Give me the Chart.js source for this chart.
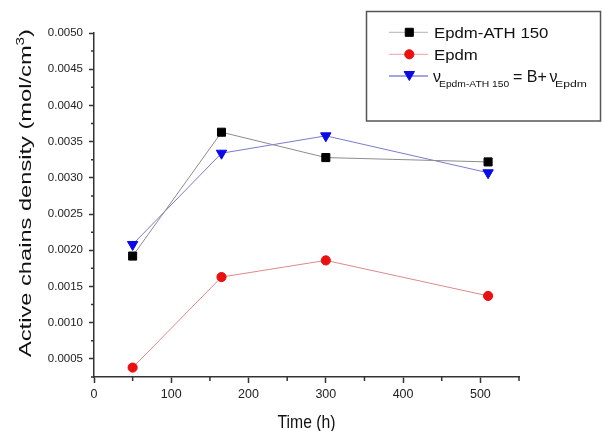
<!DOCTYPE html>
<html><head><meta charset="utf-8">
<script src="https://cdn.jsdelivr.net/npm/chart.js@4/dist/chart.umd.min.js"></script>
<style>html,body{margin:0;padding:0;background:#fff}#wrap{width:602px;height:431px;position:relative}</style>
</head><body><div id="wrap"><canvas id="c"></canvas></div>
<script>
// ---- data ----
const times = [50, 165, 300, 510];
const epdmATH150 = [0.00192, 0.00363, 0.00328, 0.00322];
const epdm = [0.00038, 0.00163, 0.00186, 0.00137];
const fitted = [0.00208, 0.00334, 0.00358, 0.00307];
const seriesNames = ['Epdm-ATH 150', 'Epdm', 'ν Epdm-ATH 150 = B+ ν Epdm'];
const xMajorTicks = [0, 100, 200, 300, 400, 500];
const xMinorTicks = [50, 150, 250, 350, 450, 550];
const yMajorTicks = [0.0005, 0.0010, 0.0015, 0.0020, 0.0025, 0.0030, 0.0035, 0.0040, 0.0045, 0.0050];
const yMinorTicks = [0.00025, 0.00075, 0.00125, 0.00175, 0.00225, 0.00275, 0.00325, 0.00375, 0.00425, 0.00475];
const xTitle = 'Time (h)';
const yTitleMain = 'Active chains density (mol/cm';
const yTitleSup = '3';
const yTitleEnd = ')';

const FAM = "'Liberation Sans', Arial, sans-serif";
const AXIS = '#333';
const styles = [
  {line: '#8c8c8c', legendLine: '#b4b4b4', fill: '#000000', shape: 'rect', r: 5.7},
  {line: '#dc8a8a', legendLine: '#f0a0a0', fill: '#e81010', shape: 'circle', r: 4.6},
  {line: '#7a7ad0', legendLine: '#4a4ac4', fill: '#0a0ae6', shape: 'triangle', r: 6.0}
];
const seriesValues = [epdmATH150, epdm, fitted];

function marker(ctx, shape, x, y, r, color) {
  ctx.save();
  ctx.fillStyle = color; ctx.strokeStyle = color; ctx.lineWidth = 1;
  ctx.beginPath();
  if (shape === 'rect') {
    const s = Math.SQRT1_2 * r;
    ctx.rect(x - s, y - s, 2 * s, 2 * s);
  } else if (shape === 'circle') {
    ctx.arc(x, y, r, 0, Math.PI * 2);
  } else {
    const w = r * Math.sin(Math.PI / 3);
    ctx.moveTo(x, y + r);
    ctx.lineTo(x - w, y - r / 2);
    ctx.lineTo(x + w, y - r / 2);
    ctx.closePath();
  }
  ctx.fill(); ctx.stroke();
  ctx.restore();
}

function txt(ctx, s, x, y, size, sx) {
  ctx.save();
  ctx.font = size + 'px ' + FAM;
  ctx.textAlign = 'left'; ctx.textBaseline = 'alphabetic';
  ctx.translate(x, y); ctx.scale(sx, 1);
  ctx.fillText(s, 0, 0);
  ctx.restore();
}

const overlay = {
  id: 'overlay',
  afterDraw(chart) {
    const ctx = chart.ctx;
    const xs = chart.scales.x, ys = chart.scales.y;
    ctx.save();
    // minor ticks
    ctx.strokeStyle = AXIS; ctx.lineWidth = 1.5;
    ctx.beginPath();
    xMinorTicks.forEach(v => { const p = xs.getPixelForValue(v); ctx.moveTo(p, xs.top); ctx.lineTo(p, xs.top + 4); });
    yMinorTicks.forEach(v => { const p = ys.getPixelForValue(v); ctx.moveTo(ys.right, p); ctx.lineTo(ys.right - 3, p); });
    ctx.stroke();

    ctx.fillStyle = '#111';
    // y title (rotated, stretched along its baseline)
    ctx.save();
    ctx.font = '17px ' + FAM;
    const w1 = ctx.measureText(yTitleMain).width;
    ctx.font = '11px ' + FAM;
    const w2 = ctx.measureText(yTitleSup).width;
    ctx.font = '17px ' + FAM;
    const w3 = ctx.measureText(yTitleEnd).width;
    const total = w1 + w2 + w3;
    const k = 328 / total;
    ctx.translate(30.5, 193);
    ctx.rotate(-Math.PI / 2);
    ctx.scale(k, 1);
    ctx.textBaseline = 'alphabetic'; ctx.textAlign = 'left';
    let px = -total / 2;
    ctx.font = '17px ' + FAM; ctx.fillText(yTitleMain, px, 0); px += w1;
    ctx.font = '11px ' + FAM; ctx.fillText(yTitleSup, px, -7); px += w2;
    ctx.font = '17px ' + FAM; ctx.fillText(yTitleEnd, px, 0);
    ctx.restore();

    // x title
    ctx.save();
    ctx.font = '18.5px ' + FAM;
    const wx = ctx.measureText(xTitle).width;
    const kx = 58 / wx;
    const cx = (xs.left + xs.right) / 2;
    txt(ctx, xTitle, cx - 29, 427.5, 18.5, kx);
    ctx.restore();

    // legend box
    ctx.strokeStyle = '#555'; ctx.lineWidth = 1.5;
    ctx.strokeRect(366.5, 11.5, 234, 109.5);
    const rowsY = [32.3, 54.3, 76];
    for (let i = 0; i < 3; i++) {
      ctx.strokeStyle = styles[i].legendLine; ctx.lineWidth = 1;
      ctx.beginPath(); ctx.moveTo(389, rowsY[i]); ctx.lineTo(428, rowsY[i]); ctx.stroke();
      marker(ctx, styles[i].shape, 409.3, rowsY[i] + (styles[i].shape === 'triangle' ? -1.5 : 0), styles[i].r, styles[i].fill);
    }
    ctx.fillStyle = '#111';
    txt(ctx, seriesNames[0], 434, 37.7, 15.4, 1.09);
    txt(ctx, seriesNames[1], 434, 59.5, 15.4, 1.09);
    // third entry with subscripts
    txt(ctx, 'ν', 433, 81.5, 16, 1.0);
    txt(ctx, 'Epdm-ATH 150', 439, 86.5, 9.4, 1.1);
    txt(ctx, '= B+', 513, 81.5, 16, 1.0);
    txt(ctx, 'ν', 549.5, 81.5, 16, 1.0);
    txt(ctx, 'Epdm', 555, 86.5, 9.4, 1.3);
    ctx.restore();
  }
};

const datasets = seriesValues.map((vals, i) => ({
  label: seriesNames[i],
  data: times.map((t, j) => ({x: t, y: vals[j]})),
  borderColor: styles[i].line,
  borderWidth: 1,
  backgroundColor: styles[i].fill,
  pointStyle: styles[i].shape,
  pointRotation: styles[i].shape === 'triangle' ? 180 : 0,
  pointRadius: styles[i].r,
  pointBackgroundColor: styles[i].fill,
  pointBorderColor: styles[i].fill,
  pointBorderWidth: 1,
  tension: 0,
  fill: false
}));

new Chart(document.getElementById('c'), {
  type: 'line',
  data: {datasets},
  options: {
    responsive: true, maintainAspectRatio: false, animation: false,
    layout: {padding: {top: 33, right: 83, left: 0, bottom: 0}},
    plugins: {legend: {display: false}, tooltip: {enabled: false}},
    scales: {
      x: {
        type: 'linear', min: 0, max: 550,
        afterBuildTicks: s => { s.ticks = xMajorTicks.map(v => ({value: v})); },
        afterFit: s => { s.height = 54; },
        grid: {drawOnChartArea: false, tickLength: 6, tickWidth: 1.5, tickColor: AXIS},
        border: {color: AXIS, width: 1.5},
        ticks: {font: {family: FAM, size: 12.5}, color: '#222', padding: 4, maxRotation: 0, autoSkip: false, callback: v => String(v)}
      },
      y: {
        type: 'linear', min: 0.00025, max: 0.005,
        afterBuildTicks: s => { s.ticks = yMajorTicks.map(v => ({value: v})); },
        afterFit: s => { s.width = 94; },
        grid: {drawOnChartArea: false, tickLength: 5, tickWidth: 1.5, tickColor: AXIS},
        border: {color: AXIS, width: 1.5},
        ticks: {font: {family: FAM, size: 11.5}, color: '#222', padding: 6, autoSkip: false, callback: v => Number(v).toFixed(4)}
      }
    }
  },
  plugins: [overlay]
});
</script>
</body></html>
